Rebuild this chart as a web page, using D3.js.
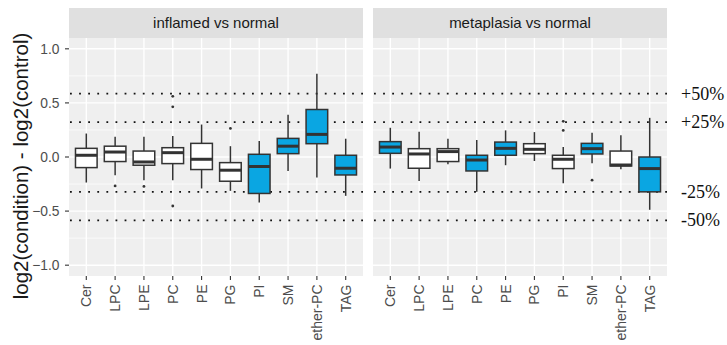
<!DOCTYPE html>
<html>
<head>
<meta charset="utf-8">
<script src="https://cdn.jsdelivr.net/npm/d3@7"></script>
<style>
  html, body { margin: 0; padding: 0; background: #fff; }
  svg { display: block; }
</style>
</head>
<body>
<svg id="chart" width="727" height="345"></svg>
<script>
// Lipid classes on the x axis
const categories = ["Cer", "LPC", "LPE", "PC", "PE", "PG", "PI", "SM", "ether-PC", "TAG"];

// Facet titles
const panelTitles = ["inflamed vs normal", "metaplasia vs normal"];

// Box statistics per class: [lower whisker, Q1, median, Q3, upper whisker]
const inflamedStats = [
  [-0.236, -0.098, 0.016, 0.080, 0.217],
  [-0.168, -0.042, 0.046, 0.100, 0.188],
  [-0.214, -0.076, -0.046, 0.055, 0.188],
  [-0.214, -0.061, 0.040, 0.086, 0.193],
  [-0.291, -0.116, -0.021, 0.126, 0.300],
  [-0.313, -0.224, -0.122, -0.052, 0.100],
  [-0.420, -0.337, -0.088, 0.025, 0.147],
  [-0.129, 0.031, 0.100, 0.172, 0.390],
  [-0.190, 0.123, 0.209, 0.439, 0.770],
  [-0.359, -0.166, -0.104, 0.016, 0.169]
];
const metaplasiaStats = [
  [-0.107, 0.034, 0.092, 0.142, 0.270],
  [-0.221, -0.104, 0.028, 0.077, 0.234],
  [-0.067, -0.042, 0.050, 0.077, 0.169],
  [-0.322, -0.129, -0.028, 0.016, 0.156],
  [-0.076, 0.016, 0.080, 0.138, 0.246],
  [-0.037, 0.031, 0.071, 0.123, 0.230],
  [-0.242, -0.107, -0.021, 0.016, 0.092],
  [-0.058, 0.028, 0.077, 0.126, 0.224],
  [-0.113, -0.083, -0.074, 0.055, 0.202],
  [-0.488, -0.322, -0.107, 0.000, 0.362]
];

// Outlying points per class
const inflamedOutliers = [[], [-0.267], [-0.272], [0.561, 0.464, -0.453], [], [0.264], [], [], [], []];
const metaplasiaOutliers = [[], [], [], [], [], [], [0.246, 0.330], [-0.214], [], []];

// Classes with a significant change (filled boxes)
const inflamedSignificant = [false, false, false, false, false, false, true, true, true, true];
const metaplasiaSignificant = [true, false, false, true, true, false, false, true, false, true];

// Reference fold-change lines (log2 of 1.5 and 1.25, both directions)
const refValues = [Math.log2(1.5), Math.log2(1.25), -Math.log2(1.25), -Math.log2(1.5)];
const refLabels = ["+50%", "+25%", "-25%", "-50%"];

// Y axis ticks
const yTicks = [-1.0, -0.5, 0.0, 0.5, 1.0];
const yMinorTicks = [-0.75, -0.25, 0.25, 0.75];

const svg = d3.select("#chart");

const panelTop = 38, panelBottom = 276, stripTop = 8;
const panels = [
  { x0: 69, x1: 363, stats: inflamedStats, outliers: inflamedOutliers, sig: inflamedSignificant, title: panelTitles[0] },
  { x0: 373, x1: 667, stats: metaplasiaStats, outliers: metaplasiaOutliers, sig: metaplasiaSignificant, title: panelTitles[1] }
];

const y = d3.scaleLinear().domain([-1.1, 1.1]).range([panelBottom, panelTop]);

const fillBlue = "#0aa6e2";
const lineCol = "#333333";
const sans = "Liberation Sans, Arial, sans-serif";

panels.forEach((p) => {
  const x = d3.scalePoint().domain(categories).range([p.x0, p.x1]).padding(0.6);
  const bw = x.step() * 0.75;
  const g = svg.append("g");

  // facet strip
  g.append("rect").attr("x", p.x0).attr("y", stripTop).attr("width", p.x1 - p.x0)
    .attr("height", panelTop - stripTop).attr("fill", "#e0e0e0");
  g.append("text").attr("x", (p.x0 + p.x1) / 2).attr("y", (stripTop + panelTop) / 2 + 5.2)
    .attr("text-anchor", "middle").attr("font-family", sans)
    .attr("font-size", 15).attr("fill", "#1a1a1a").text(p.title);

  // panel background
  g.append("rect").attr("x", p.x0).attr("y", panelTop).attr("width", p.x1 - p.x0)
    .attr("height", panelBottom - panelTop).attr("fill", "#efefef");

  // grid lines
  g.selectAll(".ymin").data(yMinorTicks).join("line")
    .attr("x1", p.x0).attr("x2", p.x1).attr("y1", d => y(d)).attr("y2", d => y(d))
    .attr("stroke", "#ffffff").attr("stroke-width", 0.7);
  g.selectAll(".ymaj").data(yTicks).join("line")
    .attr("x1", p.x0).attr("x2", p.x1).attr("y1", d => y(d)).attr("y2", d => y(d))
    .attr("stroke", "#ffffff").attr("stroke-width", 1.4);
  g.selectAll(".xmaj").data(categories).join("line")
    .attr("x1", d => x(d)).attr("x2", d => x(d)).attr("y1", panelTop).attr("y2", panelBottom)
    .attr("stroke", "#ffffff").attr("stroke-width", 1.4);

  // dotted fold-change lines
  g.selectAll(".ref").data(refValues).join("line")
    .attr("x1", p.x0 + 1).attr("x2", p.x1).attr("y1", d => y(d)).attr("y2", d => y(d))
    .attr("stroke", "#111").attr("stroke-width", 1.8)
    .attr("stroke-dasharray", "1.8,7.3");

  // box plots
  const boxes = g.selectAll(".box")
    .data(categories.map((c, i) => ({ c, s: p.stats[i], o: p.outliers[i], sig: p.sig[i] })))
    .join("g");
  boxes.append("line")
    .attr("x1", d => x(d.c)).attr("x2", d => x(d.c))
    .attr("y1", d => y(d.s[4])).attr("y2", d => y(d.s[3]))
    .attr("stroke", lineCol).attr("stroke-width", 1.5);
  boxes.append("line")
    .attr("x1", d => x(d.c)).attr("x2", d => x(d.c))
    .attr("y1", d => y(d.s[1])).attr("y2", d => y(d.s[0]))
    .attr("stroke", lineCol).attr("stroke-width", 1.5);
  boxes.append("rect")
    .attr("x", d => x(d.c) - bw / 2).attr("width", bw)
    .attr("y", d => y(d.s[3])).attr("height", d => y(d.s[1]) - y(d.s[3]))
    .attr("fill", d => d.sig ? fillBlue : "#ffffff")
    .attr("stroke", lineCol).attr("stroke-width", 1.5);
  boxes.append("line")
    .attr("x1", d => x(d.c) - bw / 2).attr("x2", d => x(d.c) + bw / 2)
    .attr("y1", d => y(d.s[2])).attr("y2", d => y(d.s[2]))
    .attr("stroke", lineCol).attr("stroke-width", 3);
  boxes.each(function (d) {
    d3.select(this).selectAll("circle").data(d.o).join("circle")
      .attr("cx", x(d.c)).attr("cy", v => y(v)).attr("r", 1.4).attr("fill", lineCol);
  });

  // x axis ticks and rotated labels
  g.selectAll(".xt").data(categories).join("line")
    .attr("x1", d => x(d)).attr("x2", d => x(d)).attr("y1", panelBottom).attr("y2", panelBottom + 4)
    .attr("stroke", "#333").attr("stroke-width", 1.1);
  g.selectAll(".xl").data(categories).join("text")
    .attr("transform", d => `translate(${x(d) + 5},${panelBottom + 8.5}) rotate(-90)`)
    .attr("text-anchor", "end")
    .attr("font-family", sans).attr("font-size", 14)
    .attr("fill", "#4d4d4d").text(d => d);
});

// y axis
const ya = svg.append("g");
ya.selectAll("line").data(yTicks).join("line")
  .attr("x1", 65).attr("x2", 69).attr("y1", d => y(d)).attr("y2", d => y(d))
  .attr("stroke", "#333").attr("stroke-width", 1.1);
ya.selectAll("text").data(yTicks).join("text")
  .attr("x", 59.5).attr("y", d => y(d) + 4.8).attr("text-anchor", "end")
  .attr("font-family", sans).attr("font-size", 13.8)
  .attr("fill", "#4d4d4d").text(d => d3.format(".1f")(d));

svg.append("text")
  .attr("transform", `translate(28,166) rotate(-90)`)
  .attr("text-anchor", "middle")
  .attr("font-family", sans).attr("font-size", 20.5)
  .attr("fill", "#1a1a1a").text("log2(condition) - log2(control)");

// percentage labels beside the dotted lines
svg.selectAll(".pct").data(refValues).join("text")
  .attr("x", 681).attr("y", d => y(d) + 5.8)
  .attr("font-family", "Liberation Serif, serif").attr("font-size", 18)
  .attr("fill", "#111").text((d, i) => refLabels[i]);
</script>
</body>
</html>
